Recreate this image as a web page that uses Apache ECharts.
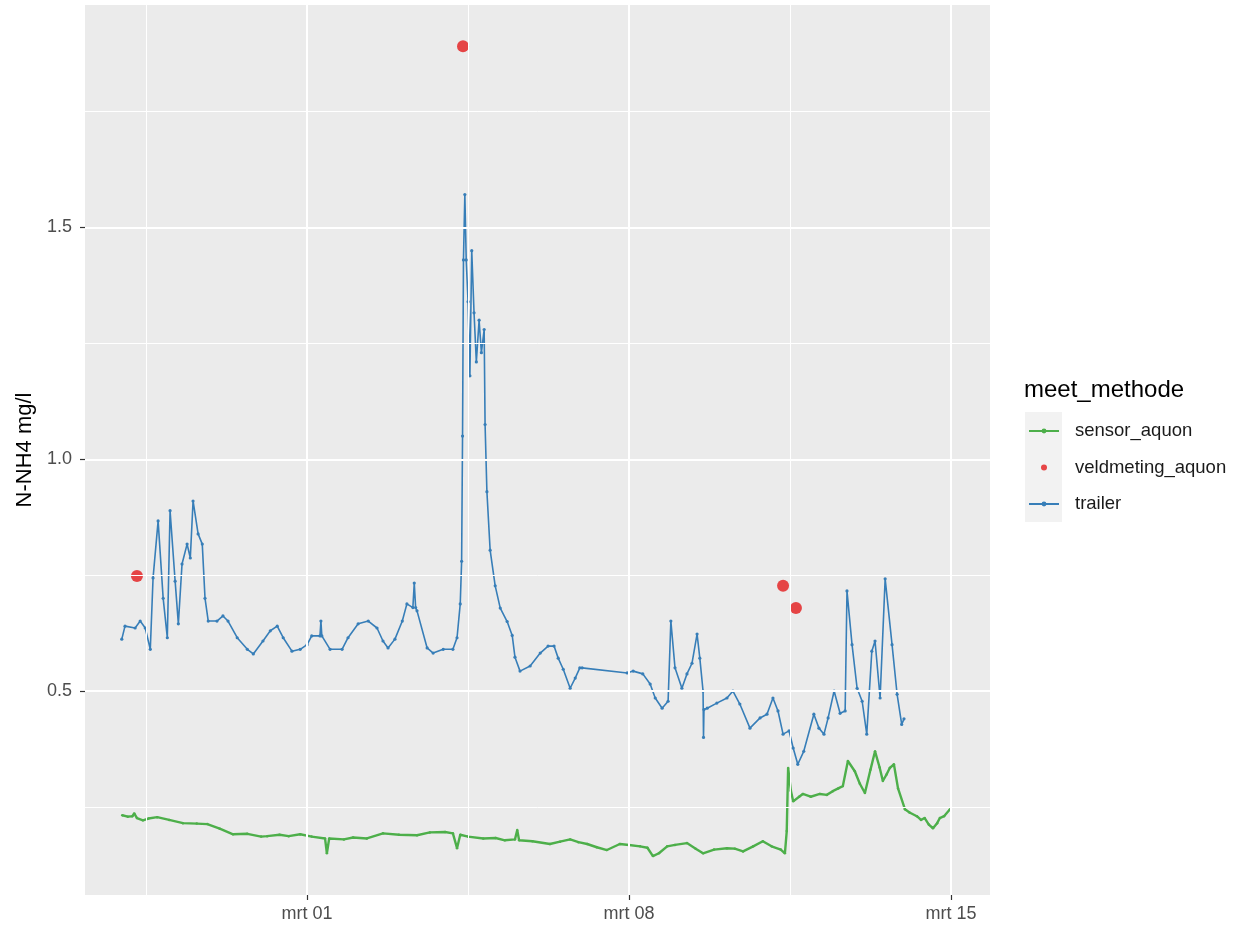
<!DOCTYPE html>
<html>
<head>
<meta charset="utf-8">
<script src="https://cdn.jsdelivr.net/npm/echarts@6/dist/echarts.min.js"></script>
<style>html,body{margin:0;padding:0;background:#fff}#c{width:1240px;height:928px}</style>
</head>
<body>
<div id="c"></div>
<script>
// x values: days since "mrt 01" 00:00
const xTickValues = [0, 7, 14];
const xTickLabels = ['mrt 01', 'mrt 08', 'mrt 15'];
const yTickValues = [0.5, 1.0, 1.5];
const yTickLabels = ['0.5', '1.0', '1.5'];
const seriesNames = ['sensor_aquon', 'veldmeting_aquon', 'trailer'];

const sensorDays = [-4.02,-3.90,-3.80,-3.76,-3.70,-3.57,-3.45,-3.26,-3.00,-2.70,-2.40,-2.17,-1.90,-1.61,-1.30,-1.00,-0.87,-0.60,-0.40,-0.15,0.10,0.39,0.43,0.48,0.80,1.00,1.30,1.65,2.00,2.39,2.67,3.00,3.17,3.26,3.33,3.50,3.83,4.10,4.30,4.52,4.57,4.61,4.90,5.28,5.50,5.72,5.90,6.09,6.30,6.52,6.80,7.00,7.24,7.40,7.52,7.65,7.83,8.00,8.26,8.45,8.61,8.85,9.13,9.30,9.48,9.70,9.91,10.10,10.30,10.39,10.43,10.46,10.52,10.57,10.70,10.78,10.95,11.15,11.30,11.43,11.55,11.65,11.76,11.91,12.02,12.13,12.25,12.35,12.45,12.52,12.60,12.67,12.76,12.85,13.00,13.10,13.26,13.35,13.43,13.52,13.61,13.70,13.76,13.85,13.98];
const sensorValues = [0.232,0.229,0.230,0.236,0.226,0.221,0.225,0.228,0.222,0.215,0.214,0.213,0.203,0.191,0.192,0.186,0.187,0.190,0.187,0.191,0.186,0.182,0.150,0.182,0.180,0.184,0.182,0.193,0.190,0.189,0.195,0.196,0.193,0.161,0.190,0.186,0.182,0.183,0.178,0.180,0.200,0.178,0.176,0.170,0.175,0.180,0.174,0.170,0.163,0.157,0.170,0.168,0.165,0.162,0.144,0.150,0.165,0.168,0.172,0.160,0.150,0.158,0.161,0.160,0.154,0.165,0.176,0.165,0.158,0.150,0.198,0.334,0.285,0.262,0.272,0.278,0.272,0.278,0.276,0.284,0.290,0.295,0.349,0.327,0.300,0.280,0.330,0.370,0.335,0.306,0.320,0.334,0.342,0.290,0.245,0.238,0.230,0.222,0.226,0.212,0.204,0.215,0.226,0.230,0.245];

const veldDays = [-3.70, 3.39, 10.35, 10.63];
const veldValues = [0.748, 1.891, 0.727, 0.679];

const trailerDays = [-4.03,-3.96,-3.74,-3.63,-3.52,-3.41,-3.35,-3.24,-3.13,-3.04,-2.98,-2.87,-2.80,-2.72,-2.61,-2.54,-2.48,-2.37,-2.28,-2.22,-2.15,-1.96,-1.83,-1.72,-1.52,-1.30,-1.17,-0.96,-0.80,-0.65,-0.52,-0.33,-0.15,0.00,0.10,0.28,0.30,0.32,0.50,0.76,0.89,1.11,1.33,1.52,1.65,1.76,1.91,2.07,2.17,2.30,2.33,2.36,2.39,2.61,2.74,2.96,3.17,3.26,3.33,3.36,3.38,3.40,3.43,3.46,3.50,3.54,3.58,3.63,3.68,3.74,3.79,3.85,3.87,3.91,3.98,4.09,4.20,4.35,4.46,4.52,4.63,4.85,5.07,5.24,5.37,5.46,5.57,5.72,5.83,5.93,5.98,6.96,7.09,7.30,7.46,7.57,7.72,7.85,7.91,8.00,8.15,8.26,8.37,8.48,8.54,8.61,8.62,8.63,8.70,8.91,9.13,9.26,9.41,9.63,9.85,10.00,10.13,10.24,10.35,10.48,10.57,10.67,10.80,11.02,11.13,11.24,11.33,11.46,11.59,11.70,11.74,11.85,11.96,12.07,12.17,12.28,12.35,12.46,12.57,12.72,12.83,12.93,12.98];
const trailerValues = [0.612,0.640,0.636,0.651,0.636,0.590,0.744,0.867,0.700,0.615,0.889,0.737,0.645,0.774,0.817,0.787,0.910,0.839,0.817,0.700,0.651,0.651,0.662,0.651,0.615,0.590,0.580,0.608,0.630,0.640,0.615,0.586,0.590,0.600,0.619,0.619,0.651,0.619,0.590,0.590,0.615,0.645,0.651,0.636,0.608,0.593,0.612,0.651,0.688,0.680,0.733,0.680,0.673,0.593,0.582,0.590,0.590,0.615,0.688,0.780,1.050,1.430,1.571,1.430,1.340,1.180,1.450,1.316,1.210,1.300,1.230,1.280,1.075,0.930,0.804,0.727,0.679,0.650,0.620,0.573,0.543,0.554,0.582,0.597,0.597,0.571,0.547,0.506,0.528,0.550,0.550,0.539,0.543,0.537,0.515,0.485,0.463,0.478,0.651,0.550,0.506,0.537,0.560,0.623,0.571,0.500,0.400,0.460,0.463,0.474,0.485,0.500,0.472,0.420,0.442,0.450,0.485,0.457,0.407,0.414,0.377,0.342,0.370,0.450,0.420,0.407,0.442,0.500,0.452,0.457,0.716,0.600,0.506,0.478,0.407,0.586,0.608,0.485,0.742,0.600,0.493,0.428,0.440];

const xMajor = [0, 7, 14];
const xMinor = [-3.5, 3.5, 10.5];
const yMajor = [0.5, 1.0, 1.5];
const yMinor = [0.25, 0.75, 1.25, 1.75];

const zip = (a, b) => a.map((v, i) => [v, b[i]]);
const FONT = '"Liberation Sans", Arial, sans-serif';

const gridLines = [];
xMajor.forEach(v => gridLines.push({xAxis: v, lineStyle: {color: '#FFFFFF', width: 2, type: 'solid'}}));
xMinor.forEach(v => gridLines.push({xAxis: v, lineStyle: {color: '#FFFFFF', width: 1, type: 'solid'}}));
yMajor.forEach(v => gridLines.push({yAxis: v, lineStyle: {color: '#FFFFFF', width: 2, type: 'solid'}}));
yMinor.forEach(v => gridLines.push({yAxis: v, lineStyle: {color: '#FFFFFF', width: 1, type: 'solid'}}));

const chart = echarts.init(document.getElementById('c'), null, {renderer: 'canvas'});
chart.setOption({
  animation: false,
  textStyle: {fontFamily: FONT},
  grid: {left: 85, right: 250, top: 5, bottom: 33, show: true, backgroundColor: '#EBEBEB', borderWidth: 0, containLabel: false},
  title: {text: 'meet_methode', left: 1019, top: 373, textStyle: {fontFamily: FONT, fontSize: 24, fontWeight: 'normal', color: '#000'}},
  legend: {
    orient: 'vertical', left: 1023, top: 416, itemWidth: 30, itemHeight: 6, itemGap: 16.5,
    data: seriesNames,
    textStyle: {fontFamily: FONT, fontSize: 18.5, lineHeight: 20, color: '#1A1A1A', padding: [0, 0, 0, 11]},
    selectedMode: false
  },
  graphic: [{type: 'rect', left: 1025, top: 412, shape: {width: 37, height: 110}, style: {fill: '#F2F2F2'}, z: -1}],
  xAxis: {
    type: 'value', min: -4.83, max: 14.85,
    splitLine: {show: false},
    axisLine: {show: false, onZero: false},
    axisTick: {show: true, customValues: xTickValues, length: 5, lineStyle: {color: '#333333', width: 1.2}},
    axisLabel: {customValues: xTickValues, margin: 10, fontSize: 18, color: '#4D4D4D', fontFamily: FONT,
      formatter: v => xTickLabels[xTickValues.indexOf(Math.round(v))] || ''}
  },
  yAxis: {
    type: 'value', min: 0.06, max: 1.98,
    name: 'N-NH4 mg/l', nameLocation: 'middle', nameRotate: 90, nameGap: 47,
    nameTextStyle: {fontFamily: FONT, fontSize: 22, color: '#000'},
    splitLine: {show: false},
    axisLine: {show: false, onZero: false},
    axisTick: {show: true, customValues: yTickValues, length: 5, lineStyle: {color: '#333333', width: 1.2}},
    axisLabel: {customValues: yTickValues, margin: 13, fontSize: 18, color: '#4D4D4D', fontFamily: FONT,
      formatter: v => yTickLabels[yTickValues.findIndex(t => Math.abs(t - v) < 1e-6)] || ''}
  },
  series: [
    {name: '_grid', type: 'line', data: [], z: 1, silent: true,
      markLine: {silent: true, symbol: 'none', label: {show: false}, animation: false, data: gridLines}},
    {name: seriesNames[0], type: 'line', z: 3, data: zip(sensorDays, sensorValues),
      color: '#4DAF4A', showSymbol: true, symbol: 'circle', symbolSize: 2.5,
      lineStyle: {width: 2.4, color: '#4DAF4A'}, itemStyle: {color: '#4DAF4A'}},
    {name: seriesNames[1], type: 'scatter', z: 4, data: zip(veldDays, veldValues),
      color: '#E41A1C', symbolSize: 12, itemStyle: {color: '#E41A1C'}},
    {name: seriesNames[2], type: 'line', z: 3, data: zip(trailerDays, trailerValues),
      color: '#377EB8', showSymbol: true, symbol: 'circle', symbolSize: 3.2,
      lineStyle: {width: 1.6, color: '#377EB8'}, itemStyle: {color: '#377EB8'}}
  ]
});
</script>
</body>
</html>
